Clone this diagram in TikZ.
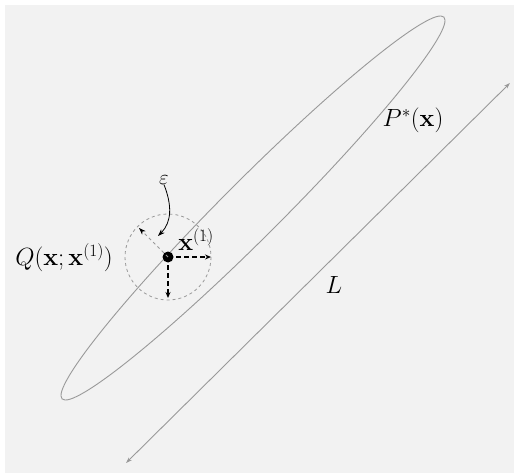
\documentclass[tikz,border=0pt]{standalone}
\usepackage{amsmath}
\usetikzlibrary{arrows.meta}
\definecolor{bggray}{HTML}{F2F2F2}
\definecolor{linegray}{HTML}{999999}
\tikzset{
  lbl/.style={inner sep=0pt, font=\fontsize{24.5}{29}\selectfont},
  smalllbl/.style={inner sep=0pt, font=\fontsize{20}{24}\selectfont},
  thinline/.style={draw=linegray, line width=0.9pt},
  stepvec/.style={black, line width=1.5pt, dash pattern=on 5pt off 3pt, -{Stealth[length=6pt,width=5pt]}},
}
\begin{document}
\begin{tikzpicture}[x=1pt,y=-1pt]
\useasboundingbox (0,0) rectangle (514,473);
\fill[white] (0,0) rectangle (514,473);
\fill[bggray] (5,5) rectangle (514,473);
% target density contour
\draw[thinline] (253,208) ellipse [x radius=270, y radius=29, rotate=45];
% length scale L
\coordinate (Lb) at (126,463);
\coordinate (Lt) at (510,83);
\draw[thinline, {Stealth[length=6pt,width=4pt]}-{Stealth[length=6pt,width=4pt]}] (Lb) -- (Lt);
% proposal circle
\node[circle, fill=black, inner sep=0pt, minimum size=11pt] (x1) at (168,257) {};
\draw[linegray, line width=0.8pt, dash pattern=on 3pt off 3pt] (x1.center) circle [radius=43];
\coordinate (re) at (211,257);
\coordinate (de) at (168,298);
\coordinate (ul) at (139,228);
\draw[stepvec] (x1.center) -- (re);
\draw[stepvec] (x1.center) -- (de);
\draw[linegray, line width=0.8pt, dash pattern=on 3pt off 3pt, -{Stealth[length=7pt,width=5pt,black]}] (x1.center) -- (ul);
% labels
\node[smalllbl] (eps) at (164,180) {$\varepsilon$};
\draw[black, line width=0.8pt, -{Stealth[length=7pt,width=5pt]}] (eps.south) .. controls (172,205) and (172,222) .. (158,236);
\node[lbl] (xl) at (196,240) {$\mathbf{x}^{(1)}$};
\node[lbl] (Q) at (64,258) {$Q(\mathbf{x};\mathbf{x}^{(1)})$};
\node[lbl] (P) at (413,120) {$P^{*}(\mathbf{x})$};
\node[lbl] (L) at (334,285) {$L$};
\end{tikzpicture}
\end{document}
